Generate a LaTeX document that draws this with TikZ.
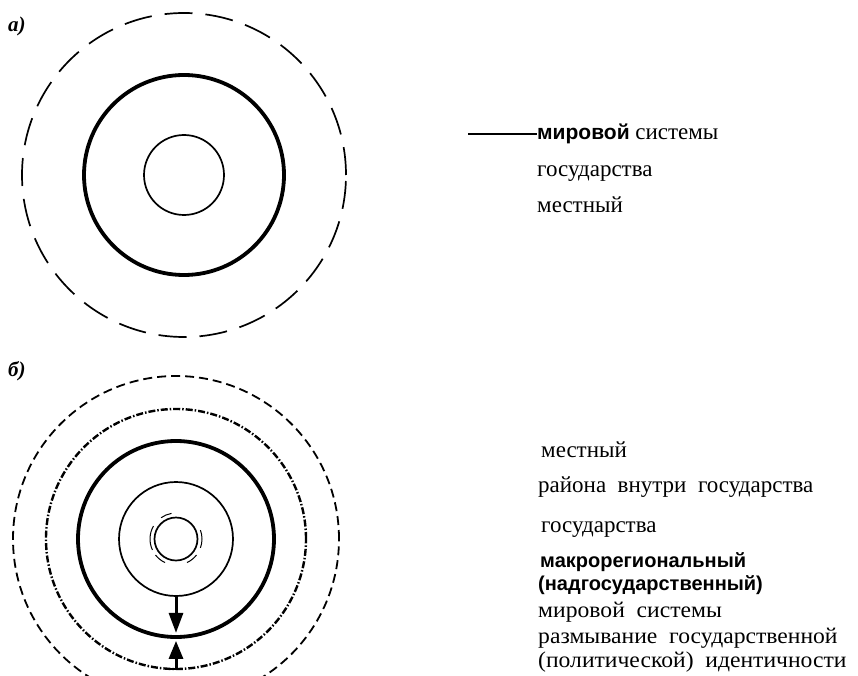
\documentclass[tikz,border=0pt]{standalone}
\usepackage{fontspec}
\setmainfont{Liberation Serif}
\newfontfamily\macrofont{Liberation Sans}
\newfontfamily\widefont{Liberation Serif}[FakeStretch=1.05]
\usetikzlibrary{arrows.meta,positioning}
\tikzset{
  ring/.style     ={circle,draw,inner sep=0pt,line width=1.7pt},
  heavyring/.style={ring,line width=3.8pt},
  longdash/.style ={ring,dash pattern=on 28pt off 13pt},
  shortdash/.style={ring,line width=1.8pt,dash pattern=on 9pt off 5pt},
  dashdot/.style  ={ring,line width=2.4pt,dash pattern=on 7pt off 2pt on 1.5pt off 2pt},
  lbl/.style      ={font=\fontsize{23}{26}\selectfont,inner sep=0pt,anchor=base west},
  widelbl/.style  ={lbl,font=\fontsize{22.5}{26}\widefont},
  macrolbl/.style ={lbl,font=\fontsize{20}{23}\macrofont\bfseries},
  tag/.style      ={font=\fontsize{21}{24}\selectfont\bfseries\itshape,inner sep=0pt,anchor=base west},
  push/.style     ={-{Triangle[length=20pt,width=14pt]},line width=3pt},
}

\begin{document}
\begin{tikzpicture}[x=1pt,y=-1pt]
  \useasboundingbox (0,0) rectangle (858,676);
  \clip (0,0) rectangle (858,676);

  % a) -- stable levels
  \node[tag] (atag) at (8,32) {а)};
  \node[longdash,minimum size=324pt]  (a3) at (184,175) {};
  \node[heavyring,minimum size=200pt] (a2) at (184,175) {};
  \node[ring,minimum size=80pt]       (a1) at (184,175) {};

  \node[lbl] (aworld) at (537,140) {{\fontsize{21}{24}\macrofont\bfseries мировой}\ системы};
  \node[lbl] (astate) at (537,177) {государства};
  \node[lbl] (alocal) at (537,213) {местный};
  \coordinate (apin) at (468,134);
  \draw[line width=1.6pt] (apin) -- (aworld.west |- apin);

  % b) -- blurred levels
  \node[tag] (btag) at (8,376) {б)};
  \node[shortdash,minimum size=326pt] (b5) at (176,539) {};
  \node[dashdot,minimum size=260pt]   (b4) at (176,539) {};
  \node[heavyring,minimum size=196pt] (b3) at (176,539) {};
  \node[ring,minimum size=114pt]      (b2) at (176,539) {};
  \node[ring,minimum size=43pt]       (b1) at (176,539) {};
  \foreach \from/\to in {150/205,-20/20,218/245,295/322,100/125}
    \draw[line width=1pt] (b1.center) ++(\from:26pt) arc[start angle=\from,end angle=\to,radius=26pt];

  \draw[push,shorten >=6pt] (b2.south) -- (b3.south);
  \draw[push,{Bar[width=12pt,line width=2.5pt]}-{Triangle[length=18pt,width=14pt]},shorten >=2pt] (b4.south) -- (b3.south);

  \node[lbl] (blocal)  at (541,457) {местный};
  \node[lbl] (bregion) at (538,492) {района\ \ внутри\ \ государства};
  \node[lbl] (bstate)  at (541,532) {государства};
  \node[macrolbl] (bmacro) at (540,567) {макрорегиональный};
  \node[macrolbl] (bsupra) at (538,590) {(надгосударственный)};
  \node[widelbl] (bworld)  at (538,617) {мировой\ \ системы};
  \node[widelbl] (bblur)   at (538,643) {размывание\ \ государственной};
  \node[widelbl] (bident)  at (538,667) {(политической)\ \ идентичности};
\end{tikzpicture}
\end{document}
